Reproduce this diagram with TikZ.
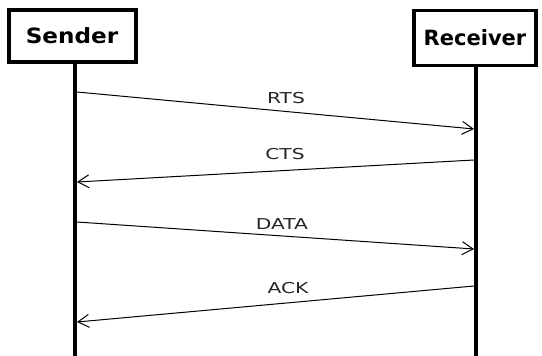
\documentclass[tikz,border=0pt]{standalone}
\usepackage{fontspec}
\setmainfont{DejaVu Sans}
\usetikzlibrary{arrows.meta}
\newcommand{\widetext}[1]{\scalebox{1.35}[1]{#1}}

\begin{document}
\begin{tikzpicture}
	[x=1pt, y=-1pt,
	actor/.style = {draw, line width=4pt, minimum width=127pt,
	minimum height=52pt, font=\fontsize{21}{21}\selectfont\bfseries},
	life/.style = {line width=4pt},
	msg/.style = {line width=1pt, -{Straight Barb[length=11pt, width=13pt]}},
	lbl/.style = {font=\fontsize{15}{15}\selectfont, text=black!85}]
	\useasboundingbox (0,0) rectangle (542,356);
	\node[actor] (sender) at (72,36) {\scalebox{1.1}[1]{Sender}};
	\node[actor, line width=3.5pt, minimum width=122pt, minimum height=55pt] (receiver) at (475,38) {Receiver};
	\coordinate (send-end) at (75,356);
	\coordinate (recv-end) at (476,356);
	\draw[life] (sender.south -| send-end) -- (send-end);
	\draw[life] (receiver.south -| recv-end) -- (recv-end);
	% message points on the lifelines
	\coordinate (s1) at (77,92);
	\coordinate (r1) at (474,129);
	\coordinate (r2) at (474,160);
	\coordinate (s2) at (77,182);
	\coordinate (s3) at (77,222);
	\coordinate (r3) at (474,249);
	\coordinate (r4) at (474,286);
	\coordinate (s4) at (77,322);
	\draw[msg] (s1) -- (r1);
	\draw[msg] (r2) -- (s2);
	\draw[msg] (s3) -- (r3);
	\draw[msg] (r4) -- (s4);
	\node[lbl] (rts) at (286,98) {\widetext{RTS}};
	\node[lbl] (cts) at (285,154) {\widetext{CTS}};
	\node[lbl] (data) at (282,224) {\widetext{DATA}};
	\node[lbl] (ack) at (288,288) {\widetext{ACK}};
\end{tikzpicture}
\end{document}
